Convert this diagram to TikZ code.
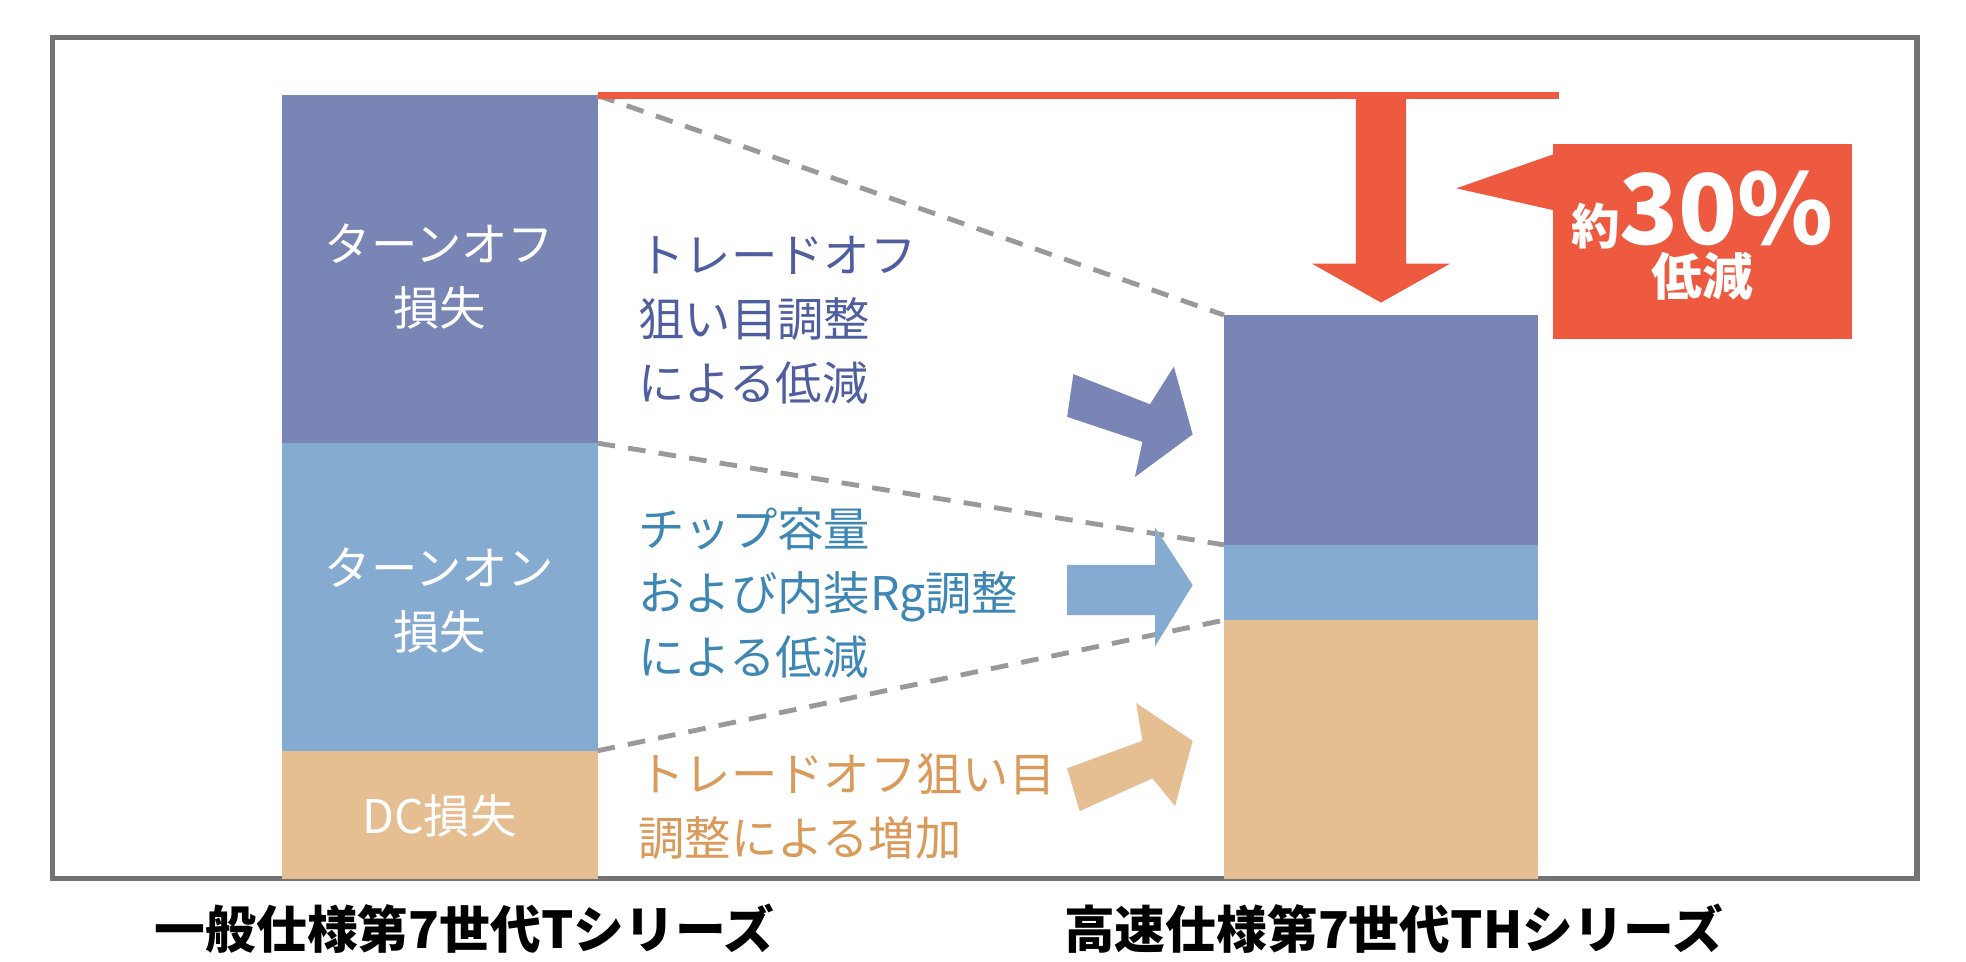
\documentclass[tikz,border=0pt]{standalone}
\usepackage{fontspec}
\setmainfont{Noto Sans CJK JP}
\definecolor{cpur}{HTML}{7885B5}
\definecolor{cblu}{HTML}{86ABD1}
\definecolor{ctan}{HTML}{E5BE91}
\definecolor{cred}{HTML}{EE5A3F}
\definecolor{tpur}{HTML}{4F5E9E}
\definecolor{tblu}{HTML}{3E87B5}
\definecolor{ttan}{HTML}{D99A5A}
\tikzset{
 lbl/.style={font=\fontsize{10.5}{14.5}\selectfont, align=left, anchor=west},
 bl/.style={font=\fontsize{10.5}{14.5}\selectfont, align=center, text=white},
 dash/.style={}, 
 dl/.style={draw=gray!80, dashed, line width=1.1pt, dash pattern=on 4pt off 3pt},
 cap2/.style={font=\fontsize{11.5}{14}\selectfont\bfseries}
}
\begin{document}
\begin{tikzpicture}[x=0.01cm,y=-0.01cm]
\useasboundingbox (0,0) rectangle (1566,766);
\fill[white] (0,0) rectangle (1566,766);
\draw[gray!90!black, line width=1.2pt] (42,30) rectangle (1527,700);
% left bar
\fill[cpur] (225,76) rectangle (476,353);
\fill[cblu] (225,353) rectangle (476,598);
\fill[ctan] (225,598) rectangle (476,700);
% right bar
\fill[cpur] (975,251) rectangle (1225,434);
\fill[cblu] (975,434) rectangle (1225,494);
\fill[ctan] (975,494) rectangle (1225,700);
\coordinate (l1) at (476,76); \coordinate (r1) at (975,251);
\coordinate (l2) at (476,353); \coordinate (r2) at (975,434);
\coordinate (l3) at (476,598); \coordinate (r3) at (975,494);
\draw[dl] (l1) -- (r1);
\draw[dl] (l2) -- (r2);
\draw[dl] (l3) -- (r3);
% red
\fill[cred] (476,73) rectangle (1242,79);
\fill[cred] (1080,79) -- (1120,79) -- (1120,210) -- (1155,210) -- (1100,241) -- (1045,210) -- (1080,210) -- cycle;
\fill[cred] (1237,115) rectangle (1475,270);
\fill[cred] (1160,150) -- (1240,122) -- (1240,168) -- cycle;
\node[text=white, font=\bfseries] (red) at (1356,192) {\begin{tabular}{c}{\fontsize{11}{13}\selectfont 約}{\fontsize{22}{24}\selectfont 30\%}\\[-2pt]{\fontsize{11.5}{14}\selectfont 低減}\end{tabular}};
% arrows
\fill[cpur] (855,298) -- (916,322) -- (935,292) -- (950,346) -- (904,380) -- (910,352) -- (850,332) -- cycle;
\fill[cblu] (850,450) -- (920,450) -- (920,420) -- (950,466) -- (920,515) -- (920,490) -- (850,490) -- cycle;
\fill[ctan] (850,612) -- (910,590) -- (905,560) -- (950,590) -- (936,642) -- (918,620) -- (860,646) -- cycle;
% texts
\node[bl] (a) at (350,220) {ターンオフ\\損失};
\node[bl] (b) at (350,478) {ターンオン\\損失};
\node[bl] (c) at (350,650) {DC損失};
\node[lbl, text=tpur] (t1) at (496,255) {トレードオフ\\狙い目調整\\による低減};
\node[lbl, text=tblu] (t2) at (496,472) {チップ容量\\および内装Rg調整\\による低減};
\node[lbl, text=ttan] (t3) at (496,642) {トレードオフ狙い目\\調整による増加};
\node[cap2] (x1) at (370,740) {一般仕様第7世代Tシリーズ};
\node[cap2] (x2) at (1110,740) {高速仕様第7世代THシリーズ};
\end{tikzpicture}
\end{document}
